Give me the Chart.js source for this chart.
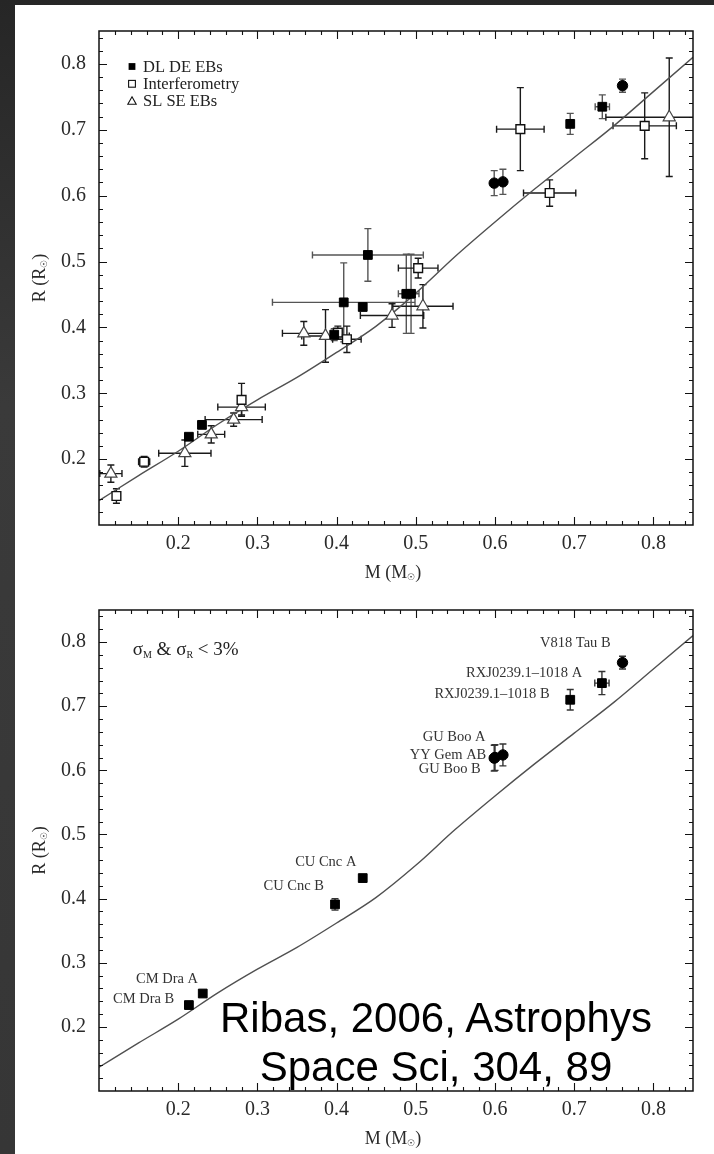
<!DOCTYPE html>
<html><head><meta charset="utf-8">
<script src="https://cdn.jsdelivr.net/npm/chart.js@4.4.1/dist/chart.umd.min.js"></script>
<style>
html,body{margin:0;padding:0;}
body{width:714px;height:1154px;position:relative;overflow:hidden;background:linear-gradient(180deg,#262626 0%,#3a3a3a 35%,#363636 100%);}
#panel{position:absolute;left:15px;top:5px;right:0;bottom:0;background:#fff;}
canvas{position:absolute;left:0;}
#c1{top:0}
#c2{top:585px}
#ref{position:absolute;left:136px;top:993px;width:600px;text-align:center;font-family:'Liberation Sans',Arial,sans-serif;font-size:42px;line-height:49px;color:#000;white-space:nowrap;}
</style></head>
<body>
<div id="panel"></div>
<canvas id="c1" width="714" height="585"></canvas>
<canvas id="c2" width="714" height="569"></canvas>
<div id="ref">Ribas, 2006, Astrophys<br>Space Sci, 304, 89</div>
<script>
// ---------- axis ticks ----------
const tickValues = [0.2, 0.3, 0.4, 0.5, 0.6, 0.7, 0.8];
const tickLabels = ['0.2', '0.3', '0.4', '0.5', '0.6', '0.7', '0.8'];
const axisMin = 0.1, axisMax = 0.85;

// ---------- model (theoretical M-R relation) ----------
const modelM = [0.10, 0.15, 0.20, 0.25, 0.30, 0.35, 0.40, 0.45, 0.50, 0.55, 0.60, 0.65, 0.70, 0.75, 0.80, 0.85];
const modelR = [0.137, 0.175, 0.212, 0.253, 0.290, 0.324, 0.362, 0.402, 0.452, 0.508, 0.560, 0.610, 0.658, 0.706, 0.758, 0.810];

// ---------- top panel: DL DE EBs (filled) ----------
const dlM    = [0.2135, 0.230, 0.397, 0.433, 0.409, 0.4395, 0.488, 0.494, 0.599, 0.610, 0.695, 0.7355, 0.761];
const dlR    = [0.234, 0.252, 0.389, 0.431, 0.438, 0.510, 0.451, 0.451, 0.619, 0.621, 0.709, 0.735, 0.767];
const dlMerr = [0.002, 0.002, 0.003, 0.002, 0.090, 0.070, 0.010, 0.010, 0.003, 0.003, 0.003, 0.009, 0.005];
const dlRerr = [0.004, 0.004, 0.009, 0.004, 0.060, 0.040, 0.060, 0.060, 0.019, 0.019, 0.016, 0.018, 0.010];
const dlShapes = ['rect','rect','rect','rect','rect','rect','rect','rect','circle','circle','rect','rect','circle'];

// ---------- top panel: Interferometry (open squares) ----------
const ifM    = [0.122, 0.157, 0.280, 0.4016, 0.413, 0.503, 0.632, 0.669, 0.789];
const ifR    = [0.144, 0.196, 0.290, 0.392, 0.382, 0.490, 0.701, 0.604, 0.706];
const ifMerr = [0.004, 0.007, 0.004, 0.005, 0.018, 0.025, 0.030, 0.033, 0.040];
const ifRerr = [0.011, 0.008, 0.025, 0.010, 0.020, 0.015, 0.063, 0.020, 0.050];

// ---------- top panel: SL SE EBs (open triangles) ----------
const slM    = [0.115, 0.2084, 0.2417, 0.270, 0.280, 0.3586, 0.386, 0.470, 0.509, 0.820];
const slR    = [0.178, 0.209, 0.2376, 0.260, 0.279, 0.391, 0.387, 0.418, 0.432, 0.719];
const slMerr = [0.014, 0.033, 0.017, 0.036, 0.030, 0.027, 0.030, 0.040, 0.038, 0.080];
const slRerr = [0.013, 0.020, 0.013, 0.010, 0.012, 0.018, 0.040, 0.018, 0.033, 0.090];

// ---------- bottom panel: sigma < 3% systems ----------
const accNames = ['CM Dra B', 'CM Dra A', 'CU Cnc B', 'CU Cnc A', 'YY Gem AB', 'GU Boo B', 'GU Boo A', 'RXJ0239.1\u20131018 B', 'RXJ0239.1\u20131018 A', 'V818 Tau B'];
const accM    = [0.2135, 0.231, 0.398, 0.433, 0.599, 0.600, 0.610, 0.695, 0.735, 0.761];
const accR    = [0.234, 0.252, 0.391, 0.432, 0.619, 0.620, 0.624, 0.710, 0.736, 0.768];
const accMerr = [0.002, 0.002, 0.002, 0.002, 0.003, 0.003, 0.003, 0.003, 0.009, 0.005];
const accRerr = [0.004, 0.004, 0.009, 0.004, 0.020, 0.020, 0.017, 0.016, 0.018, 0.010];
const accShapes = ['rect','rect','rect','rect','circle','circle','circle','rect','rect','circle'];
// label anchors (data units; right end of text, vertical middle)
const accLabelM = [0.195, 0.225, 0.384, 0.425, 0.589, 0.582, 0.588, 0.669, 0.710, 0.746];
const accLabelR = [0.243, 0.274, 0.419, 0.456, 0.624, 0.602, 0.652, 0.719, 0.752, 0.798];

const legendNames = ['DL DE EBs', 'Interferometry', 'SL SE EBs'];

// ---------- helpers ----------
const SERIF = '"Liberation Serif", "Times New Roman", serif';
const zip = (xs, ys) => xs.map((v, i) => ({x: v, y: ys[i]}));
const minorTicks = [];
for (let k = 6; k <= 42; k++) { if (k % 5 !== 0) minorTicks.push(k / 50); }

function drawParts(ctx, parts, x, y, align) {
  let w = 0;
  parts.forEach(p => { ctx.font = p[1] + 'px ' + SERIF; w += ctx.measureText(p[0]).width; });
  let cx = align === 'center' ? x - w / 2 : (align === 'right' ? x - w : x);
  ctx.textAlign = 'left';
  parts.forEach(p => {
    ctx.font = p[1] + 'px ' + SERIF;
    ctx.fillText(p[0], cx, y + (p[2] || 0));
    cx += ctx.measureText(p[0]).width;
  });
}

function axisCfg(isX, fit) {
  return {
    type: 'linear', min: axisMin, max: axisMax,
    afterBuildTicks: s => { s.ticks = tickValues.map(v => ({value: v})); },
    ticks: {
      callback: (v, i) => tickLabels[i],
      font: {family: SERIF, size: 20}, color: '#2a2a2a',
      padding: isX ? 7 : 13, maxRotation: 0, autoSkip: false
    },
    grid: {display: false, drawTicks: false},
    border: {display: false},
    title: {display: false},
    afterFit: s => { if (isX) s.height = fit; else s.width = fit; }
  };
}

const errorBars = {
  id: 'errorBars',
  beforeDatasetsDraw(chart) {
    const {ctx, chartArea: a, scales: {x, y}} = chart;
    ctx.save();
    ctx.beginPath(); ctx.rect(a.left, a.top, a.right - a.left, a.bottom - a.top); ctx.clip();
    chart.data.datasets.forEach(ds => {
      if (!ds.errX) return;
      ctx.strokeStyle = ds.errColor; ctx.lineWidth = 1.4;
      ds.data.forEach((p, i) => {
        const px = x.getPixelForValue(p.x), py = y.getPixelForValue(p.y);
        const x0 = x.getPixelForValue(p.x - ds.errX[i]), x1 = x.getPixelForValue(p.x + ds.errX[i]);
        const y0 = y.getPixelForValue(p.y - ds.errY[i]), y1 = y.getPixelForValue(p.y + ds.errY[i]);
        const c = 3.5;
        ctx.beginPath();
        if (x1 - x0 > 9) {
          ctx.moveTo(x0, py); ctx.lineTo(x1, py);
          ctx.moveTo(x0, py - c); ctx.lineTo(x0, py + c);
          ctx.moveTo(x1, py - c); ctx.lineTo(x1, py + c);
        }
        if (y0 - y1 > 9) {
          ctx.moveTo(px, y0); ctx.lineTo(px, y1);
          ctx.moveTo(px - c, y0); ctx.lineTo(px + c, y0);
          ctx.moveTo(px - c, y1); ctx.lineTo(px + c, y1);
        }
        ctx.stroke();
      });
    });
    ctx.restore();
  }
};

const frame = {
  id: 'frame',
  afterDatasetsDraw(chart) {
    const {ctx, chartArea: a, scales: {x, y}} = chart;
    ctx.save();
    ctx.strokeStyle = '#111';
    ctx.lineWidth = 1.1;
    ctx.beginPath();
    const tx = (v, len) => { const p = Math.round(x.getPixelForValue(v)) + 0.5;
      ctx.moveTo(p, a.bottom); ctx.lineTo(p, a.bottom - len); ctx.moveTo(p, a.top); ctx.lineTo(p, a.top + len); };
    const ty = (v, len) => { const p = Math.round(y.getPixelForValue(v)) + 0.5;
      ctx.moveTo(a.left, p); ctx.lineTo(a.left + len, p); ctx.moveTo(a.right, p); ctx.lineTo(a.right - len, p); };
    minorTicks.forEach(v => { tx(v, 4); ty(v, 4); });
    tickValues.forEach(v => { tx(v, 8); ty(v, 8); });
    ctx.stroke();
    ctx.lineWidth = 1.5;
    ctx.strokeRect(a.left, a.top, a.right - a.left, a.bottom - a.top);
    ctx.restore();
  },
  afterDraw(chart) {
    const {ctx, chartArea: a} = chart;
    ctx.save();
    ctx.fillStyle = '#2a2a2a';
    ctx.textBaseline = 'middle';
    drawParts(ctx, [['M (M', 18, 0], ['\u2609', 9, 5], [')', 18, 0]], (a.left + a.right) / 2 - 3, a.bottom + 48, 'center');
    ctx.translate(40, (a.top + a.bottom) / 2);
    ctx.rotate(-Math.PI / 2);
    drawParts(ctx, [['R (R', 18, 0], ['\u2609', 9, 5], [')', 18, 0]], 0, 0, 'center');
    ctx.restore();
  }
};

const topLegend = {
  id: 'topLegend',
  afterDraw(chart) {
    const {ctx, chartArea: a} = chart;
    ctx.save();
    ctx.font = '16.5px ' + SERIF;
    ctx.textBaseline = 'middle';
    ctx.textAlign = 'left';
    legendNames.forEach((name, i) => {
      const yy = a.top + 35.5 + i * 17.3, cx = a.left + 33;
      ctx.fillStyle = '#000'; ctx.strokeStyle = '#111'; ctx.lineWidth = 1.1;
      if (i === 0) ctx.fillRect(cx - 3.4, yy - 3.4, 6.8, 6.8);
      else if (i === 1) { ctx.fillStyle = '#fff'; ctx.fillRect(cx - 3.4, yy - 3.4, 6.8, 6.8); ctx.strokeRect(cx - 3.4, yy - 3.4, 6.8, 6.8); }
      else { ctx.beginPath(); ctx.moveTo(cx, yy - 4.3); ctx.lineTo(cx + 4.2, yy + 3.2); ctx.lineTo(cx - 4.2, yy + 3.2); ctx.closePath(); ctx.stroke(); }
      ctx.fillStyle = '#222';
      ctx.fillText(name, a.left + 44, yy + 1);
    });
    ctx.restore();
  }
};

const bottomLabels = {
  id: 'bottomLabels',
  afterDraw(chart) {
    const {ctx, scales: {x, y}} = chart;
    ctx.save();
    ctx.fillStyle = '#333';
    ctx.textBaseline = 'middle';
    ctx.textAlign = 'right';
    ctx.font = '14.5px ' + SERIF;
    accNames.forEach((n, i) => ctx.fillText(n, x.getPixelForValue(accLabelM[i]), y.getPixelForValue(accLabelR[i])));
    ctx.fillStyle = '#222';
    drawParts(ctx, [['\u03C3', 19, 0], ['M', 10, 5], [' & \u03C3', 19, 0], ['R', 10, 5], [' < 3%', 19, 0]],
      x.getPixelForValue(0.1426), y.getPixelForValue(0.787), 'left');
    ctx.restore();
  }
};

const modelDataset = () => ({
  type: 'line', data: zip(modelM, modelR), showLine: true, pointRadius: 0,
  borderColor: '#505050', borderWidth: 1.4, cubicInterpolationMode: 'monotone', order: 10
});

const commonOptions = (padTop, xFit) => ({
  responsive: false, animation: false, devicePixelRatio: 1,
  layout: {padding: {left: 0, right: 21, top: padTop, bottom: 0}},
  plugins: {legend: {display: false}, tooltip: {enabled: false}},
  scales: {x: axisCfg(true, xFit), y: axisCfg(false, 99)}
});

new Chart(document.getElementById('c1'), {
  type: 'scatter',
  data: {datasets: [
    {data: zip(dlM, dlR), errX: dlMerr, errY: dlRerr, errColor: '#555',
     pointStyle: ctx => dlShapes[ctx.dataIndex], pointRadius: ctx => dlShapes[ctx.dataIndex] === 'circle' ? 5.2 : 6.2,
     backgroundColor: '#000', borderColor: '#000', borderWidth: 1, order: 1},
    {data: zip(ifM, ifR), errX: ifMerr, errY: ifRerr, errColor: '#1a1a1a',
     pointStyle: 'rect', pointRadius: 6.2, backgroundColor: '#fff', borderColor: '#111', borderWidth: 1.4, order: 2},
    {data: zip(slM, slR), errX: slMerr, errY: slRerr, errColor: '#1a1a1a',
     pointStyle: 'triangle', pointRadius: 7, backgroundColor: '#fff', borderColor: '#444', borderWidth: 1.2, order: 3},
    modelDataset()
  ]},
  options: commonOptions(31, 60),
  plugins: [errorBars, frame, topLegend]
});

new Chart(document.getElementById('c2'), {
  type: 'scatter',
  data: {datasets: [
    {data: zip(accM, accR), errX: accMerr, errY: accRerr, errColor: '#333',
     pointStyle: ctx => accShapes[ctx.dataIndex], pointRadius: ctx => accShapes[ctx.dataIndex] === 'circle' ? 5.2 : 6.2,
     backgroundColor: '#000', borderColor: '#000', borderWidth: 1, order: 1},
    modelDataset()
  ]},
  options: commonOptions(12, 63),
  plugins: [errorBars, frame, bottomLabels]
});
</script>
</body></html>
